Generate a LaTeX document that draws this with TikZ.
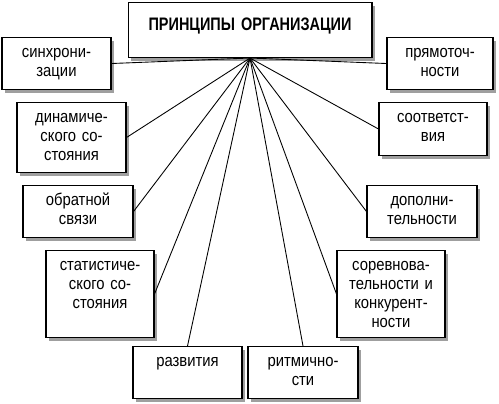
\documentclass[tikz,border=0pt]{standalone}
\usepackage{fontspec}
\setmainfont[FakeStretch=0.87]{Liberation Sans}
\newfontfamily\headfont[FakeStretch=0.8]{Liberation Sans}
\usetikzlibrary{shadows}

\begin{document}
\begin{tikzpicture}[
        %We set the units (one pixel of the scheme) and define some styles
        x=0.02cm, y=-0.02cm,
        principle/.style={draw, line width=0.6pt, fill=white, align=center, anchor=north,
            inner xsep=0pt, inner ysep=0.16cm, text height=0.24cm,
            font=\fontsize{9.7}{10.8}\selectfont,
            drop shadow={shadow xshift=0.06cm, shadow yshift=-0.06cm, opacity=1, fill=gray!75}},
        title box/.style={principle, font=\headfont\fontsize{10.3}{12}\selectfont\bfseries},
        spoke/.style={line width=0.5pt},
     ]
    \useasboundingbox (0,0) rectangle (499,404);
    % The main box
    \node[title box, text width=4.88cm, text height=0.4cm, text depth=0.38cm] (title) at (250,2) {ПРИНЦИПЫ ОРГАНИЗАЦИИ};
    % Left column
    \node[principle, text width=2.18cm, text depth=0.48cm] (sync) at (56.5,37) {синхрони-\\зации};
    \node[principle, text width=2.18cm, text depth=0.84cm] (dyn) at (71.5,102) {динамиче-\\ского со-\\стояния};
    \node[principle, text width=2.2cm, text depth=0.48cm] (feed) at (78,185) {обратной\\связи};
    \node[principle, text width=2.16cm, text depth=1.18cm] (stat) at (100,250) {статистиче-\\ского со-\\стояния};
    % Bottom row
    \node[principle, text width=2.18cm, text depth=0.48cm] (dev) at (187.5,346) {развития};
    \node[principle, text width=2.2cm, text depth=0.48cm] (rhythm) at (303,346) {ритмично-\\сти};
    % Right column
    \node[principle, text width=2.16cm, text depth=1.18cm] (comp) at (391,250) {соревнова-\\тельности и\\конкурент-\\ности};
    \node[principle, text width=2.2cm, text depth=0.48cm] (add) at (422,185) {дополни-\\тельности};
    \node[principle, text width=2.16cm, text depth=0.5cm] (corr) at (433,102) {соответст-\\вия};
    \node[principle, text width=2.12cm, text depth=0.48cm] (direct) at (440,37) {прямоточ-\\ности};
    % All spokes start at the bottom of the main box
    \foreach \n/\a in {sync/east, dyn/east, feed/east, stat/east, dev/north,
                       rhythm/north, comp/west, add/west, corr/west, direct/west}
        \draw[spoke] (title.south) -- (\n.\a);
\end{tikzpicture}
\end{document}
